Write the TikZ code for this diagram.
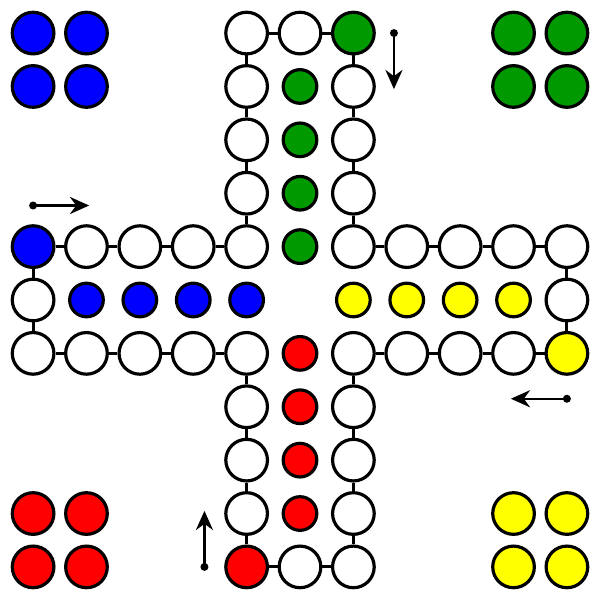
\documentclass[tikz,border=0pt]{standalone}
\usepackage{tikz}
\usetikzlibrary{arrows.meta}
\definecolor{ludoblue}{HTML}{0000FF}
\definecolor{ludogreen}{HTML}{009900}
\definecolor{ludoyellow}{HTML}{FFFF00}
\definecolor{ludored}{HTML}{FF0000}

\begin{document}
\begin{tikzpicture}[
    field/.style={circle, draw=black, line width=1.7pt, fill=white, minimum size=0.78cm, inner sep=0pt},
    goal/.style={circle, draw=black, line width=1.7pt, minimum size=0.63cm, inner sep=0pt},
    link/.style={line width=1.6pt},
    startdot/.style={circle, fill=black, minimum size=0.15cm, inner sep=0pt},
    arrow/.style={-{Stealth[length=0.36cm, width=0.32cm]}, line width=1.3pt}
]
\useasboundingbox (-0.62,-0.62) rectangle (10.62,10.62);

% Track
\foreach \x/\y/\c [count=\i from 0] in {
    0/6/ludoblue, 1/6/white, 2/6/white, 3/6/white, 4/6/white,
    4/7/white, 4/8/white, 4/9/white, 4/10/white, 5/10/white,
    6/10/ludogreen, 6/9/white, 6/8/white, 6/7/white, 6/6/white,
    7/6/white, 8/6/white, 9/6/white, 10/6/white, 10/5/white,
    10/4/ludoyellow, 9/4/white, 8/4/white, 7/4/white, 6/4/white,
    6/3/white, 6/2/white, 6/1/white, 6/0/white, 5/0/white,
    4/0/ludored, 4/1/white, 4/2/white, 4/3/white, 4/4/white,
    3/4/white, 2/4/white, 1/4/white, 0/4/white, 0/5/white}
    \node[field, fill=\c] (t\i) at (\x,\y) {};

% Links
\foreach \i in {0,...,39} {
    \pgfmathtruncatemacro\j{mod(\i+1,40)}
    \draw[link] (t\i) -- (t\j);
}

% Goals
\foreach \k in {1,...,4} {
    \node[goal, fill=ludoblue] (bg\k) at (\k,5) {};
    \node[goal, fill=ludogreen] (gg\k) at (5,10-\k) {};
    \node[goal, fill=ludoyellow] (yg\k) at (10-\k,5) {};
    \node[goal, fill=ludored] (rg\k) at (5,\k) {};
}

% Homes
\foreach \x/\y [count=\k] in {0/0, 1/0, 0/1, 1/1} {
    \node[field, fill=ludored] (rh\k) at (\x,\y) {};
    \node[field, fill=ludoyellow] (yh\k) at (\x+9,\y) {};
    \node[field, fill=ludoblue] (bh\k) at (\x,\y+9) {};
    \node[field, fill=ludogreen] (gh\k) at (\x+9,\y+9) {};
}

% Arrows
\node[startdot] (bdot) at (0,6.77) {};
\coordinate (btip) at (1.05,6.77);
\node[startdot] (gdot) at (6.76,10) {};
\coordinate (gtip) at (6.76,8.95);
\node[startdot] (ydot) at (10,3.15) {};
\coordinate (ytip) at (8.95,3.15);
\node[startdot] (rdot) at (3.21,0) {};
\coordinate (rtip) at (3.21,1.05);
\draw[arrow] (bdot.center) -- (btip);
\draw[arrow] (gdot.center) -- (gtip);
\draw[arrow] (ydot.center) -- (ytip);
\draw[arrow] (rdot.center) -- (rtip);

\end{tikzpicture}
\end{document}
